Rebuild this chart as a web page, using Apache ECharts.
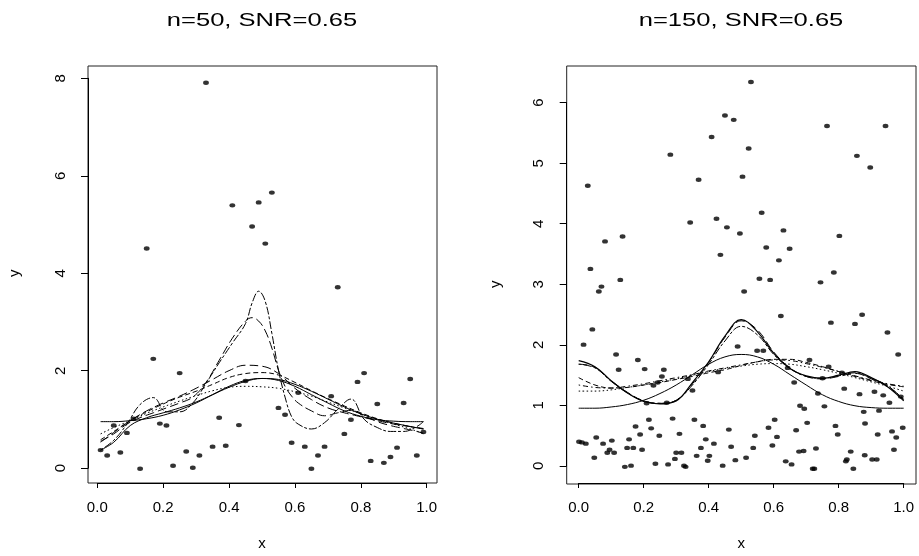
<!DOCTYPE html>
<html>
<head>
<meta charset="utf-8">
<script src="https://cdn.jsdelivr.net/npm/echarts@6/dist/echarts.min.js"></script>
<style>
html,body{margin:0;padding:0;background:#fff;}
#chart{width:919px;height:556px;}
</style>
</head>
<body>
<div id="chart"></div>
<script>
// ---------- data ----------
const titles = ['n=50, SNR=0.65', 'n=150, SNR=0.65'];
const xTicks = [0, 0.2, 0.4, 0.6, 0.8, 1.0];

// left panel points (n=50)
const leftPtX = [0.01,0.03,0.05,0.07,0.09,0.11,0.13,0.15,0.17,0.19,0.21,0.23,0.25,0.27,0.29,0.31,0.33,0.35,0.37,0.39,0.41,0.43,0.45,0.47,0.49,0.51,0.53,0.55,0.57,0.59,0.61,0.63,0.65,0.67,0.69,0.71,0.73,0.75,0.77,0.79,0.81,0.83,0.85,0.87,0.89,0.91,0.93,0.95,0.97,0.99];
const leftPtY = [0.42,0.31,0.92,0.37,0.77,1.06,0.04,4.53,2.28,0.96,0.92,0.10,1.99,0.39,0.06,0.31,7.91,0.49,1.08,0.51,5.41,0.93,1.83,4.98,5.47,4.63,5.67,1.28,1.14,0.57,1.59,0.49,0.04,0.31,0.49,1.52,3.74,0.75,1.04,1.81,1.99,0.20,1.36,0.16,0.28,0.47,1.38,1.87,0.31,0.79];

// left panel curves
const leftCurveX = [0.01,0.05,0.10,0.15,0.20,0.25,0.30,0.35,0.40,0.45,0.50,0.55,0.60,0.65,0.70,0.75,0.80,0.85,0.90,0.95,0.99];
const leftTruth  = [1.00,1.00,1.02,1.06,1.13,1.24,1.38,1.55,1.72,1.84,1.88,1.84,1.72,1.55,1.38,1.22,1.11,1.04,1.01,1.00,1.00];
const leftSolid  = [0.42,0.58,0.92,1.08,1.18,1.28,1.40,1.55,1.70,1.82,1.88,1.86,1.76,1.62,1.46,1.30,1.16,1.05,0.97,0.90,0.85];
const leftDash1  = [0.58,0.78,1.02,1.22,1.38,1.52,1.68,1.86,2.04,2.15,2.13,1.98,1.68,1.45,1.28,1.18,1.10,1.02,0.95,0.90,0.86];
const leftDash2  = [0.63,0.80,1.02,1.20,1.36,1.50,1.62,1.76,1.90,1.98,2.00,1.95,1.80,1.63,1.47,1.32,1.18,1.06,0.97,0.90,0.85];
const leftDotted = [0.75,0.88,1.02,1.17,1.30,1.42,1.53,1.63,1.70,1.72,1.71,1.68,1.61,1.52,1.40,1.28,1.16,1.05,0.95,0.85,0.76];
const leftWiggleX = [0.01,0.05,0.09,0.13,0.17,0.21,0.25,0.29,0.33,0.37,0.41,0.45,0.47,0.49,0.51,0.53,0.55,0.57,0.59,0.61,0.65,0.69,0.73,0.77,0.81,0.85,0.89,0.93,0.97,0.99];
const leftWiggle  = [0.42,0.62,0.95,1.35,1.49,1.20,1.20,1.38,1.78,2.20,2.60,3.00,3.42,3.66,3.45,2.80,2.05,1.50,1.10,0.95,0.85,0.98,1.25,1.46,1.05,0.88,0.80,0.80,0.90,1.00];
const leftLong    = [0.60,0.75,0.95,1.08,1.18,1.28,1.38,1.50,1.80,2.25,2.70,3.05,3.12,3.05,2.85,2.50,2.05,1.72,1.52,1.38,1.22,1.12,1.18,1.23,1.12,1.00,0.92,0.86,0.80,0.76];

// right panel points (n=150)
const rightPtX = [0.001,0.010,0.015,0.022,0.028,0.036,0.042,0.048,0.054,0.062,0.070,0.075,0.081,0.088,0.095,0.102,0.109,0.115,0.123,0.128,0.135,0.142,0.149,0.155,0.161,0.168,0.175,0.182,0.189,0.195,0.203,0.209,0.216,0.223,0.230,0.236,0.243,0.248,0.256,0.262,0.271,0.275,0.282,0.289,0.296,0.300,0.310,0.316,0.324,0.329,0.336,0.343,0.350,0.356,0.363,0.369,0.376,0.383,0.391,0.397,0.402,0.409,0.416,0.424,0.429,0.436,0.443,0.450,0.456,0.462,0.469,0.477,0.482,0.489,0.496,0.504,0.509,0.515,0.523,0.530,0.537,0.542,0.549,0.556,0.563,0.568,0.577,0.584,0.589,0.596,0.603,0.610,0.616,0.622,0.630,0.637,0.643,0.649,0.655,0.663,0.669,0.678,0.681,0.692,0.694,0.703,0.710,0.720,0.725,0.730,0.736,0.744,0.750,0.756,0.764,0.769,0.776,0.785,0.790,0.797,0.802,0.810,0.817,0.822,0.825,0.837,0.845,0.850,0.856,0.864,0.872,0.877,0.881,0.880,0.897,0.903,0.910,0.917,0.920,0.924,0.937,0.944,0.950,0.956,0.964,0.970,0.977,0.983,0.991,0.997];
const rightPtY = [0.45,0.44,2.04,0.42,4.64,3.28,2.29,0.19,0.52,2.91,2.99,0.42,3.73,0.27,0.32,0.47,0.27,1.88,1.63,3.10,3.81,0.04,0.35,0.49,0.06,0.35,0.70,1.79,0.57,0.32,1.64,1.08,0.81,0.67,1.37,0.09,1.42,0.55,1.52,1.63,1.09,0.08,5.15,0.83,0.17,0.27,0.58,0.27,0.06,0.04,1.48,4.04,1.29,0.81,0.22,4.74,0.35,0.71,0.49,0.14,0.22,5.44,0.42,4.10,1.59,3.51,0.06,5.79,3.96,0.65,0.37,5.72,0.15,2.01,3.86,4.79,2.91,0.19,5.25,6.34,0.35,0.55,1.94,3.12,4.20,1.94,3.63,0.68,3.10,0.39,0.81,0.53,3.42,2.51,3.91,0.13,1.66,3.61,0.08,1.42,0.64,0.29,1.04,0.30,0.99,0.76,1.79,0.01,0.01,0.34,1.24,3.06,1.49,1.03,5.62,1.68,2.40,3.22,0.71,0.57,3.82,1.58,1.32,0.13,0.16,0.29,0.01,2.38,5.13,1.23,2.53,0.94,0.75,0.23,4.94,0.16,1.27,0.16,0.57,0.96,1.21,5.62,2.24,1.09,0.62,0.32,0.52,1.88,1.19,0.68];

// right panel curves
const rightCurveX = [0,0.05,0.10,0.15,0.20,0.25,0.30,0.35,0.40,0.45,0.50,0.55,0.60,0.65,0.70,0.75,0.80,0.85,0.90,0.95,1.00];
const rightTruth   = [1.00,1.00,1.02,1.06,1.13,1.24,1.38,1.55,1.72,1.84,1.88,1.84,1.72,1.55,1.38,1.22,1.11,1.04,1.01,1.00,1.00];
const rightBold    = [1.78,1.68,1.45,1.25,1.11,1.07,1.12,1.42,1.76,2.18,2.45,2.25,1.90,1.65,1.53,1.49,1.54,1.60,1.50,1.35,1.12];
const rightLong    = [1.72,1.67,1.45,1.26,1.12,1.08,1.13,1.40,1.75,2.16,2.43,2.28,1.92,1.66,1.52,1.48,1.52,1.57,1.48,1.36,1.15];
const rightTwoDash = [1.72,1.66,1.44,1.25,1.12,1.08,1.13,1.38,1.72,2.10,2.34,2.20,1.88,1.65,1.52,1.49,1.53,1.58,1.49,1.37,1.14];
const rightDashed  = [1.50,1.38,1.33,1.34,1.38,1.42,1.47,1.52,1.58,1.63,1.70,1.76,1.80,1.80,1.75,1.68,1.60,1.52,1.45,1.39,1.35];
const rightDotDash = [1.38,1.34,1.33,1.36,1.40,1.45,1.50,1.55,1.61,1.66,1.71,1.76,1.79,1.78,1.73,1.67,1.60,1.53,1.46,1.40,1.36];
const rightDotted  = [1.28,1.28,1.30,1.34,1.38,1.43,1.48,1.54,1.60,1.65,1.69,1.72,1.73,1.72,1.68,1.63,1.57,1.50,1.43,1.36,1.28];

// ---------- chart ----------
const FONT = 'Liberation Sans, Arial, Helvetica, sans-serif';
const pairs = (xs, ys) => xs.map((x, i) => [x, ys[i]]);

const DOT = [1.5, 2.5], DASH = [5, 3], LONG = [9, 4], DOTDASH = [1.5, 3, 5, 3], TWODASH = [3, 2, 8, 2];

function line(xi, xs, ys, type, width) {
  return {
    type: 'line', xAxisIndex: xi, yAxisIndex: xi,
    data: pairs(xs, ys), showSymbol: false, symbol: 'none',
    smooth: 0.4, silent: true,
    lineStyle: { color: '#000', width: width || 1, type: type }
  };
}
function dots(xi, xs, ys) {
  return {
    type: 'scatter', xAxisIndex: xi, yAxisIndex: xi,
    data: pairs(xs, ys), symbol: 'circle', symbolSize: [5.8, 4.4], silent: true,
    itemStyle: { color: '#000' }, z: 5
  };
}

const hiddenAxis = (gi, min, max) => ({ type: 'value', gridIndex: gi, min: min, max: max, show: false });
const labelStyle = { color: '#000', fontFamily: FONT, fontSize: 15 };

function xAxisVis(gi, offset) {
  return {
    type: 'value', gridIndex: gi, min: 0, max: 1, interval: 0.2, position: 'bottom', offset: offset,
    axisLine: { show: true, onZero: false, lineStyle: { color: '#000', width: 1 } },
    axisTick: { show: true, length: 5, lineStyle: { color: '#000' } },
    axisLabel: Object.assign({ margin: 17, formatter: v => v.toFixed(1), customValues: xTicks }, labelStyle),
    splitLine: { show: false },
    name: 'x', nameLocation: 'middle', nameGap: 53, nameTextStyle: labelStyle
  };
}
// y axis line + ticks + name
function yAxisVis(gi, max, interval, offset, nameGap) {
  return {
    type: 'value', gridIndex: gi, min: 0, max: max, interval: interval, position: 'left', offset: offset,
    axisLine: { show: true, onZero: false, lineStyle: { color: '#000', width: 1 } },
    axisTick: { show: true, length: 7, lineStyle: { color: '#000' } },
    axisLabel: { show: false },
    splitLine: { show: false },
    name: 'y', nameLocation: 'middle', nameGap: nameGap, nameTextStyle: labelStyle
  };
}
// y tick labels only (placed a little further out)
function yAxisLabels(gi, max, interval, offset) {
  return {
    type: 'value', gridIndex: gi, min: 0, max: max, interval: interval, position: 'left', offset: offset,
    axisLine: { show: false, onZero: false },
    axisTick: { show: false },
    axisLabel: Object.assign({ margin: 13, rotate: 90 }, labelStyle),
    splitLine: { show: false }
  };
}

const chart = echarts.init(document.getElementById('chart'), null, { renderer: 'canvas' });
chart.setOption({
  animation: false,
  backgroundColor: '#fff',
  graphic: [
    { type: 'text', x: 262, y: 21, scaleX: 1.42,
      style: { text: titles[0], font: '18px ' + FONT, fill: '#000', textAlign: 'center', textVerticalAlign: 'middle', align: 'center', verticalAlign: 'middle' } },
    { type: 'text', x: 741, y: 21, scaleX: 1.42,
      style: { text: titles[1], font: '18px ' + FONT, fill: '#000', textAlign: 'center', textVerticalAlign: 'middle', align: 'center', verticalAlign: 'middle' } }
  ],
  grid: [
    { left: 88, top: 66, width: 349, height: 417, show: true, borderColor: '#222', borderWidth: 1, backgroundColor: 'transparent' },
    { left: 97.3, top: 78.3, width: 329.4, height: 392.4, show: false },
    { left: 566.7, top: 66, width: 349.3, height: 418, show: true, borderColor: '#222', borderWidth: 1, backgroundColor: 'transparent' },
    { left: 578.7, top: 102.7, width: 325, height: 366.6, show: false }
  ],
  xAxis: [
    hiddenAxis(0, -0.0282, 1.0313),
    xAxisVis(1, 14.8),
    hiddenAxis(2, -0.0369, 1.0378),
    xAxisVis(3, 17.2)
  ],
  yAxis: [
    hiddenAxis(0, -0.251, 8.251),
    yAxisVis(1, 8, 2, 9.3, 66),
    hiddenAxis(2, -0.2406, 6.601),
    yAxisVis(3, 6, 1, 12, 63),
    yAxisLabels(1, 8, 2, 16.3),
    yAxisLabels(3, 6, 1, 19)
  ],
  series: [
    dots(0, leftPtX, leftPtY),
    line(0, leftCurveX, leftTruth, 'solid'),
    line(0, leftCurveX, leftSolid, 'solid'),
    line(0, leftCurveX, leftDash1, LONG),
    line(0, leftCurveX, leftDash2, DASH),
    line(0, leftCurveX, leftDotted, DOT),
    line(0, leftWiggleX, leftWiggle, TWODASH),
    line(0, leftWiggleX, leftLong, LONG),
    dots(2, rightPtX, rightPtY),
    line(2, rightCurveX, rightTruth, 'solid'),
    line(2, rightCurveX, rightBold, 'solid', 1.2),
    line(2, rightCurveX, rightLong, LONG),
    line(2, rightCurveX, rightTwoDash, TWODASH),
    line(2, rightCurveX, rightDashed, DASH),
    line(2, rightCurveX, rightDotDash, DOTDASH),
    line(2, rightCurveX, rightDotted, DOT)
  ]
});
</script>
</body>
</html>
